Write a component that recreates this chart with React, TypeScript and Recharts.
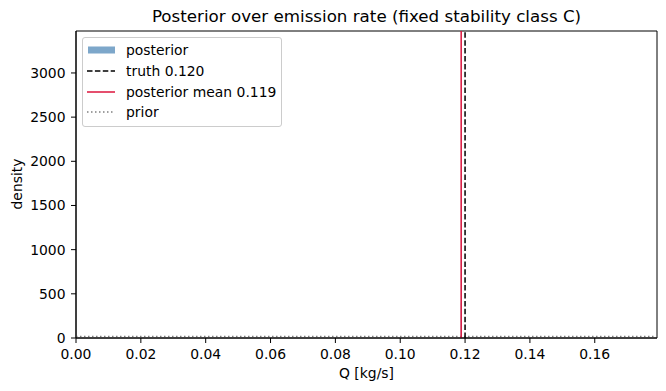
import React from "react";
import {
  ComposedChart,
  XAxis,
  YAxis,
  Line,
  Area,
  ReferenceLine,
  ReferenceArea,
} from "recharts";

const TITLE = "Posterior over emission rate (fixed stability class C)";
const X_LABEL = "Q [kg/s]";
const Y_LABEL = "density";

const X_MAX = 0.1792;
const Y_MAX = 3475;
const xTicks = [0, 0.02, 0.04, 0.06, 0.08, 0.1, 0.12, 0.14, 0.16];
const yTicks = [0, 500, 1000, 1500, 2000, 2500, 3000];

const TRUTH_Q = 0.12;
const POSTERIOR_MEAN_Q = 0.1188;

const priorQ = [0, 0.02, 0.04, 0.06, 0.08, 0.1, 0.12, 0.14, 0.16, 0.18];
const priorDensity = [16, 16, 16, 16, 16, 16, 16, 16, 16, 16];

const posteriorQ = [0.11866, 0.11872, 0.11878, 0.11884, 0.1189, 0.11896];
const posteriorDensity = [400, 1800, 3300, 2600, 900, 0];

const priorData = priorQ.map((q, i) => ({ q, prior: priorDensity[i] }));
const posteriorData = posteriorQ.map((q, i) => ({ q, posterior: posteriorDensity[i] }));

const legendItems = [
  { label: "posterior", kind: "patch", color: "#4682b4" },
  { label: "truth 0.120", kind: "dashed", color: "#000000" },
  { label: "posterior mean 0.119", kind: "solid", color: "#dc143c" },
  { label: "prior", kind: "dotted", color: "#808080" },
];

const FONT = "'DejaVu Sans', sans-serif";

function LegendBox() {
  return (
    <div
      style={{
        position: "absolute",
        left: 82,
        top: 37,
        width: 198,
        height: 88,
        border: "1px solid #cccccc",
        borderRadius: 3,
        background: "rgba(255,255,255,0.8)",
        fontFamily: FONT,
        fontSize: 13.9,
        color: "#000",
      }}
    >
      {legendItems.map((it, i) => (
        <div
          key={it.label}
          style={{ position: "absolute", left: 0, top: 3 + i * 20.8, height: 18, width: 198 }}
        >
          <svg width={40} height={18} style={{ position: "absolute", left: 0, top: 0 }}>
            {it.kind === "patch" ? (
              <rect x={5} y={5.5} width={27} height={7} fill={it.color} fillOpacity={0.7} />
            ) : (
              <line
                x1={4}
                x2={32}
                y1={9}
                y2={9}
                stroke={it.color}
                strokeWidth={1.5}
                strokeDasharray={
                  it.kind === "dashed" ? "5.5 2.4" : it.kind === "dotted" ? "1.5 2.5" : undefined
                }
              />
            )}
          </svg>
          <span
            style={{
              position: "absolute",
              left: 43,
              top: 0,
              whiteSpace: "nowrap",
              lineHeight: "18px",
            }}
          >
            {it.label}
          </span>
        </div>
      ))}
    </div>
  );
}

export default function App() {
  return (
    <div
      style={{
        position: "absolute",
        left: 0,
        top: 0,
        width: 666,
        height: 391,
        background: "#fff",
        fontFamily: FONT,
      }}
    >
      <ComposedChart
        width={666}
        height={391}
        margin={{ top: 31, right: 9, bottom: 23, left: 16 }}
      >
        <XAxis
          type="number"
          dataKey="q"
          domain={[0, X_MAX]}
          allowDataOverflow
          ticks={xTicks}
          tickFormatter={(v: number) => v.toFixed(2)}
          height={30}
          tickSize={5}
          tickMargin={6}
          axisLine={{ stroke: "#000" }}
          tickLine={{ stroke: "#000" }}
          tick={{ fill: "#000", fontSize: 13.9 }}
          interval={0}
        />
        <YAxis
          type="number"
          domain={[0, Y_MAX]}
          allowDataOverflow
          ticks={yTicks}
          width={60}
          tickSize={5}
          tickMargin={5.5}
          axisLine={{ stroke: "#000" }}
          tickLine={{ stroke: "#000" }}
          tick={{ fill: "#000", fontSize: 13.9 }}
          interval={0}
        />
        <Area
          data={posteriorData}
          dataKey="posterior"
          type="stepAfter"
          fill="#4682b4"
          fillOpacity={0.7}
          stroke="none"
          isAnimationActive={false}
        />
        <Line
          data={priorData}
          dataKey="prior"
          stroke="#808080"
          strokeWidth={1.5}
          strokeDasharray="1.5 2.5"
          dot={false}
          isAnimationActive={false}
        />
        <ReferenceLine x={TRUTH_Q} stroke="#000" strokeWidth={1.5} strokeDasharray="5.5 2.4" />
        <ReferenceLine x={POSTERIOR_MEAN_Q} stroke="#dc143c" strokeWidth={1.5} />
        <ReferenceArea x1={0} x2={X_MAX} y1={0} y2={Y_MAX} fill="none" stroke="#000" strokeWidth={1} />
      </ComposedChart>
      <div
        style={{
          position: "absolute",
          left: 76,
          width: 581,
          top: 6,
          textAlign: "center",
          fontSize: 16.7,
          lineHeight: "20px",
          color: "#000",
        }}
      >
        {TITLE}
      </div>
      <div
        style={{
          position: "absolute",
          left: 76,
          width: 581,
          top: 364,
          textAlign: "center",
          fontSize: 13.9,
          lineHeight: "18px",
          color: "#000",
        }}
      >
        {X_LABEL}
      </div>
      <div
        style={{
          position: "absolute",
          left: 17,
          top: 184,
          transform: "translate(-50%, -50%) rotate(-90deg)",
          fontSize: 13.9,
          lineHeight: "18px",
          color: "#000",
          whiteSpace: "nowrap",
        }}
      >
        {Y_LABEL}
      </div>
      <LegendBox />
    </div>
  );
}
